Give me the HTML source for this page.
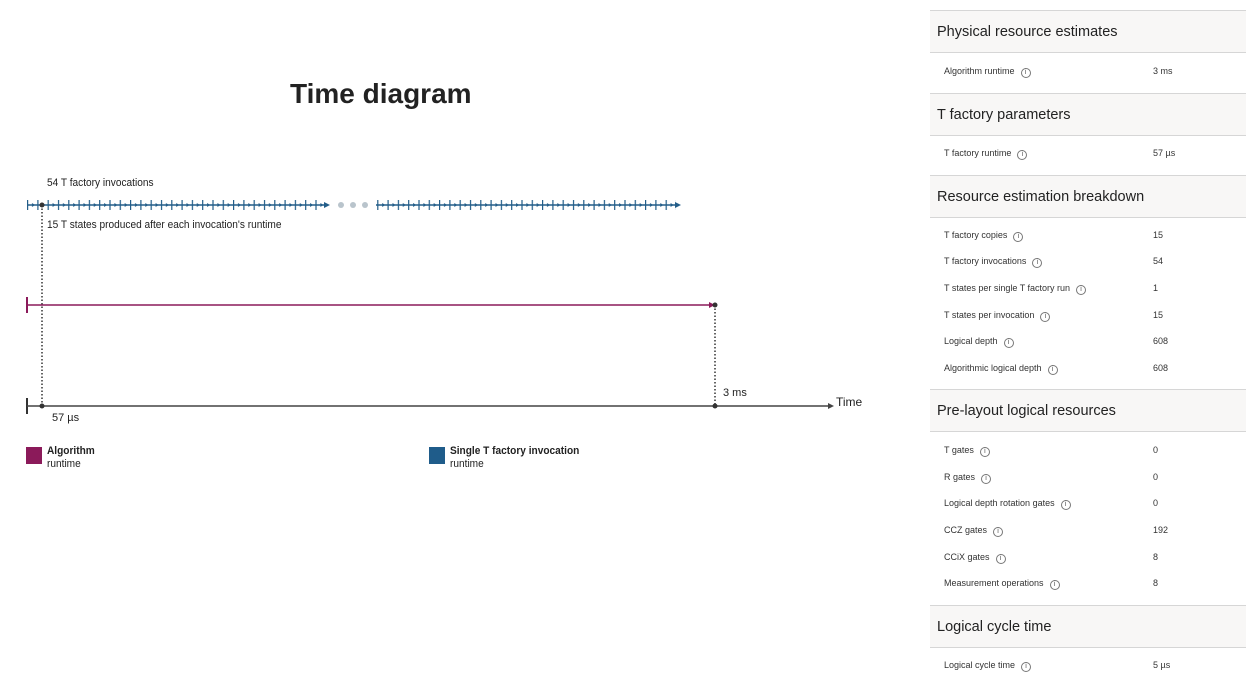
<!DOCTYPE html>
<html><head><meta charset="utf-8"><style>
body{margin:0;width:1259px;height:690px;background:#fff;font-family:"Liberation Sans",sans-serif;position:relative;overflow:hidden;color:#222}
.a{position:absolute;white-space:nowrap}
.hl{position:absolute;left:930px;width:316px;height:1px;background:#d6d6d6}
.hd{position:absolute;left:930px;width:316px;background:#f8f7f6;font-size:14.5px;color:#222}
.hd span{position:absolute;left:7px;top:50%;transform:translateY(-50%)}
.r{position:absolute;left:944px;font-size:9px;color:#333}
.v{position:absolute;left:1153px;font-size:9px;color:#333}
.i{display:inline-block;width:8px;height:8px;border:1px solid #777;border-radius:50%;font-size:7px;line-height:8px;text-align:center;margin-left:6px;vertical-align:0px;color:#555}
.n{transform:scaleX(0.92);transform-origin:left}
</style></head><body>
<div class="a" style="left:290px;top:78px;font-size:28px;font-weight:bold;color:#222">Time diagram</div>
<svg class="a" style="left:0;top:0" width="900" height="500">
<defs>
<pattern id="tk" x="27" y="198" width="10.3" height="14" patternUnits="userSpaceOnUse">
<line x1="0.6" y1="2" x2="0.6" y2="12" stroke="#225d89" stroke-width="1.2"/>
<path d="M5 5 L8 7 L5 9Z" fill="#225d89"/>
</pattern>
</defs>
<line x1="27" y1="205" x2="328" y2="205" stroke="#225d89" stroke-width="1.5"/>
<rect x="27" y="198" width="298" height="14" fill="url(#tk)"/>
<path d="M324 202 L330 205 L324 208Z" fill="#225d89"/>
<circle cx="341" cy="205" r="3" fill="#b9c4cc"/><circle cx="353" cy="205" r="3" fill="#b9c4cc"/><circle cx="365" cy="205" r="3" fill="#b9c4cc"/>
<line x1="376" y1="205" x2="679" y2="205" stroke="#225d89" stroke-width="1.5"/>
<rect x="376" y="198" width="300" height="14" fill="url(#tk)"/>
<path d="M675 202 L681 205 L675 208Z" fill="#225d89"/>
<line x1="42" y1="205" x2="42" y2="406" stroke="#333" stroke-width="1.5" stroke-dasharray="1.5 2"/>
<circle cx="42" cy="205" r="2.5" fill="#333"/>
<line x1="27" y1="297" x2="27" y2="313" stroke="#8b1a5a" stroke-width="2"/>
<line x1="27" y1="305" x2="712" y2="305" stroke="#8b1a5a" stroke-width="1.5"/>
<path d="M709 302 L715 305 L709 308Z" fill="#8b1a5a"/>
<circle cx="715" cy="305" r="2.5" fill="#333"/>
<line x1="715" y1="305" x2="715" y2="406" stroke="#333" stroke-width="1.5" stroke-dasharray="1.5 2"/>
<line x1="27" y1="398" x2="27" y2="414" stroke="#333" stroke-width="2"/>
<line x1="27" y1="406" x2="830" y2="406" stroke="#444" stroke-width="1.5"/>
<path d="M828 403 L834 406 L828 409Z" fill="#444"/>
<circle cx="42" cy="406" r="2.5" fill="#333"/><circle cx="715" cy="406" r="2.5" fill="#333"/>
<rect x="26" y="447" width="16" height="17" fill="#8b1a5a"/>
<rect x="429" y="447" width="16" height="17" fill="#1f5c8a"/>
</svg>
<div class="a n" style="left:47px;top:177px;font-size:11px">54 T factory invocations</div>
<div class="a n" style="left:47px;top:219px;font-size:11px">15 T states produced after each invocation's runtime</div>
<div class="a" style="left:52px;top:412px;font-size:11px">57 µs</div>
<div class="a" style="left:723px;top:387px;font-size:11px">3 ms</div>
<div class="a" style="left:836px;top:395px;font-size:12px">Time</div>
<div class="a n" style="left:47px;top:445px;font-size:11px;line-height:13px"><b>Algorithm</b><br>runtime</div>
<div class="a n" style="left:450px;top:445px;font-size:11px;line-height:13px"><b>Single T factory invocation</b><br>runtime</div>

<div class="hl" style="top:10px"></div>
<div class="hd" style="top:11px;height:41px"><span>Physical resource estimates</span></div>
<div class="hl" style="top:52px"></div>
<div class="r" style="top:66px">Algorithm runtime<span class="i">i</span></div><div class="v" style="top:66px">3 ms</div>
<div class="hl" style="top:93px"></div>
<div class="hd" style="top:94px;height:41px"><span>T factory parameters</span></div>
<div class="hl" style="top:135px"></div>
<div class="r" style="top:148px">T factory runtime<span class="i">i</span></div><div class="v" style="top:148px">57 µs</div>
<div class="hl" style="top:175px"></div>
<div class="hd" style="top:176px;height:41px"><span>Resource estimation breakdown</span></div>
<div class="hl" style="top:217px"></div>
<div class="r" style="top:230px">T factory copies<span class="i">i</span></div><div class="v" style="top:230px">15</div>
<div class="r" style="top:256px">T factory invocations<span class="i">i</span></div><div class="v" style="top:256px">54</div>
<div class="r" style="top:283px">T states per single T factory run<span class="i">i</span></div><div class="v" style="top:283px">1</div>
<div class="r" style="top:310px">T states per invocation<span class="i">i</span></div><div class="v" style="top:310px">15</div>
<div class="r" style="top:336px">Logical depth<span class="i">i</span></div><div class="v" style="top:336px">608</div>
<div class="r" style="top:363px">Algorithmic logical depth<span class="i">i</span></div><div class="v" style="top:363px">608</div>
<div class="hl" style="top:389px"></div>
<div class="hd" style="top:390px;height:41px"><span>Pre-layout logical resources</span></div>
<div class="hl" style="top:431px"></div>
<div class="r" style="top:445px">T gates<span class="i">i</span></div><div class="v" style="top:445px">0</div>
<div class="r" style="top:472px">R gates<span class="i">i</span></div><div class="v" style="top:472px">0</div>
<div class="r" style="top:498px">Logical depth rotation gates<span class="i">i</span></div><div class="v" style="top:498px">0</div>
<div class="r" style="top:525px">CCZ gates<span class="i">i</span></div><div class="v" style="top:525px">192</div>
<div class="r" style="top:552px">CCiX gates<span class="i">i</span></div><div class="v" style="top:552px">8</div>
<div class="r" style="top:578px">Measurement operations<span class="i">i</span></div><div class="v" style="top:578px">8</div>
<div class="hl" style="top:605px"></div>
<div class="hd" style="top:606px;height:41px"><span>Logical cycle time</span></div>
<div class="hl" style="top:647px"></div>
<div class="r" style="top:660px">Logical cycle time<span class="i">i</span></div><div class="v" style="top:660px">5 µs</div>
</body></html>
